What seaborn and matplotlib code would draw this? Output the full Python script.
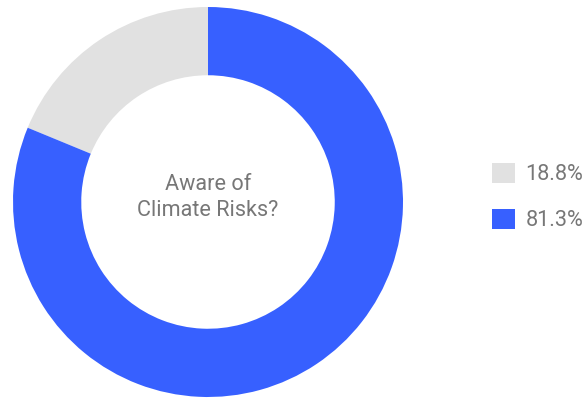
import matplotlib
matplotlib.use("Agg")
import matplotlib.pyplot as plt
import seaborn as sns

# Survey shares: aware vs. not aware of climate risks
labels = ["18.8%", "81.3%"]
values = [18.8, 81.3]
colors = ["#E1E1E1", "#3760FF"]
center_text = "Aware of\nClimate Risks?"

sns.set_theme(style="white")
plt.rcParams["font.family"] = ["Roboto", "DejaVu Sans"]

W, H = 585, 399
fig = plt.figure(figsize=(W / 100, H / 100), dpi=100)
fig.patch.set_facecolor("white")

# square axes holding the donut (pixel box: x 13..403, y 7..397)
ax = fig.add_axes([13 / W, (H - 397) / H, 390 / W, 390 / H])
wedges, _ = ax.pie(
    values,
    colors=colors,
    startangle=90,
    counterclock=True,
    radius=1.0,
    wedgeprops=dict(width=0.35, linewidth=0, edgecolor="none"),
)
ax.set_aspect("equal")
ax.set_xlim(-1, 1)
ax.set_ylim(-1, 1)
ax.axis("off")

ax.text(0, 0.025, center_text, ha="center", va="center",
        fontsize=15.6, color="#777777", linespacing=1.3)

leg = fig.legend(
    wedges, labels,
    loc="center left",
    bbox_to_anchor=(492 / W, 1 - 197 / H),
    frameon=False,
    fontsize=15.6,
    borderpad=0,
    borderaxespad=0,
    handlelength=1.05,
    handleheight=1.05,
    handletextpad=0.5,
    labelspacing=1.08,
    labelcolor="#777777",
)

fig.savefig("out.png", dpi=100, facecolor="white")
